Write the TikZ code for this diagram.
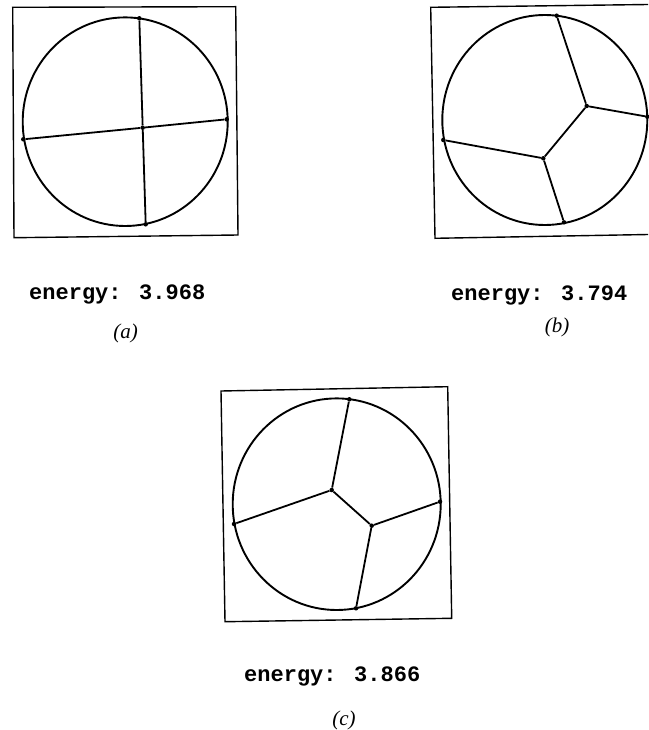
\documentclass[tikz,border=0pt]{standalone}
\usepackage{fontspec}
\newfontfamily\energyfont{Liberation Mono}
\newfontfamily\labelfont{Liberation Serif}
\begin{document}
\begin{tikzpicture}[x=1pt,y=-1pt,
  edge/.style={line width=1.8pt},
  rim/.style={line width=1.9pt},
  frame/.style={line width=1.4pt},
  vtx/.style={circle,fill,inner sep=0pt,minimum size=4.5pt},
  energy/.style={font=\fontsize{22}{26}\selectfont\energyfont\bfseries,anchor=base west,inner sep=0pt},
  lab/.style={font=\fontsize{21}{24}\selectfont\labelfont\itshape,inner sep=0pt}]
\useasboundingbox (0,0) rectangle (648,730);

% ---------- panel (a)
\draw[frame] (12.7,7.3) -- (235.7,6.7) -- (238,235) -- (14,237.7) -- cycle;
\draw[rim] (125.2,121.7) ellipse [x radius=102.5, y radius=104.3];
\node[vtx] (aT) at (139.3,18.3) {};
\node[vtx] (aC) at (142.7,127.7) {};
\node[vtx] (aR) at (226.7,119.3) {};
\node[vtx] (aL) at (23.3,139.3) {};
\node[vtx] (aB) at (145.7,224.3) {};
\draw[edge] (aT) -- (aC) -- (aB);
\draw[edge] (aL) -- (aC) -- (aR);
\node[energy] (ea) at (29,299) {energy: 3.968};
\node[lab] (la) at (125.5,333) {(a)};

% ---------- panel (b)
\draw[frame] (648,4.5) -- (430.7,7.3) -- (435,238.3) -- (648,234.5);
\draw[rim] (544.8,120) ellipse [x radius=102.5, y radius=105];
\node[vtx] (bT) at (556.7,15.7) {};
\node[vtx] (bI) at (586.7,106) {};
\node[vtx] (bR) at (647.3,116.7) {};
\node[vtx] (bL) at (443.3,140) {};
\node[vtx] (bJ) at (543.3,158.3) {};
\node[vtx] (bB) at (564,222.3) {};
\draw[edge] (bT) -- (bI) -- (bR);
\draw[edge] (bI) -- (bJ);
\draw[edge] (bL) -- (bJ) -- (bB);
\node[energy] (eb) at (451,300) {energy: 3.794};
\node[lab] (lb) at (557,327.5) {(b)};

% ---------- panel (c)
\draw[frame] (221,391) -- (447.7,386.7) -- (451.7,618.3) -- (225,621.7) -- cycle;
\draw[rim] (336.7,504.2) ellipse [x radius=104, y radius=105.8];
\node[vtx] (cT) at (349.3,399.3) {};
\node[vtx] (cI) at (331.7,490) {};
\node[vtx] (cL) at (234,524) {};
\node[vtx] (cJ) at (371.7,525.7) {};
\node[vtx] (cR) at (440,501.7) {};
\node[vtx] (cB) at (356,608.3) {};
\draw[edge] (cT) -- (cI) -- (cL);
\draw[edge] (cI) -- (cJ);
\draw[edge] (cR) -- (cJ) -- (cB);
\node[energy] (ec) at (244,681) {energy: 3.866};
\node[lab] (lc) at (344,720.5) {(c)};
\end{tikzpicture}
\end{document}
